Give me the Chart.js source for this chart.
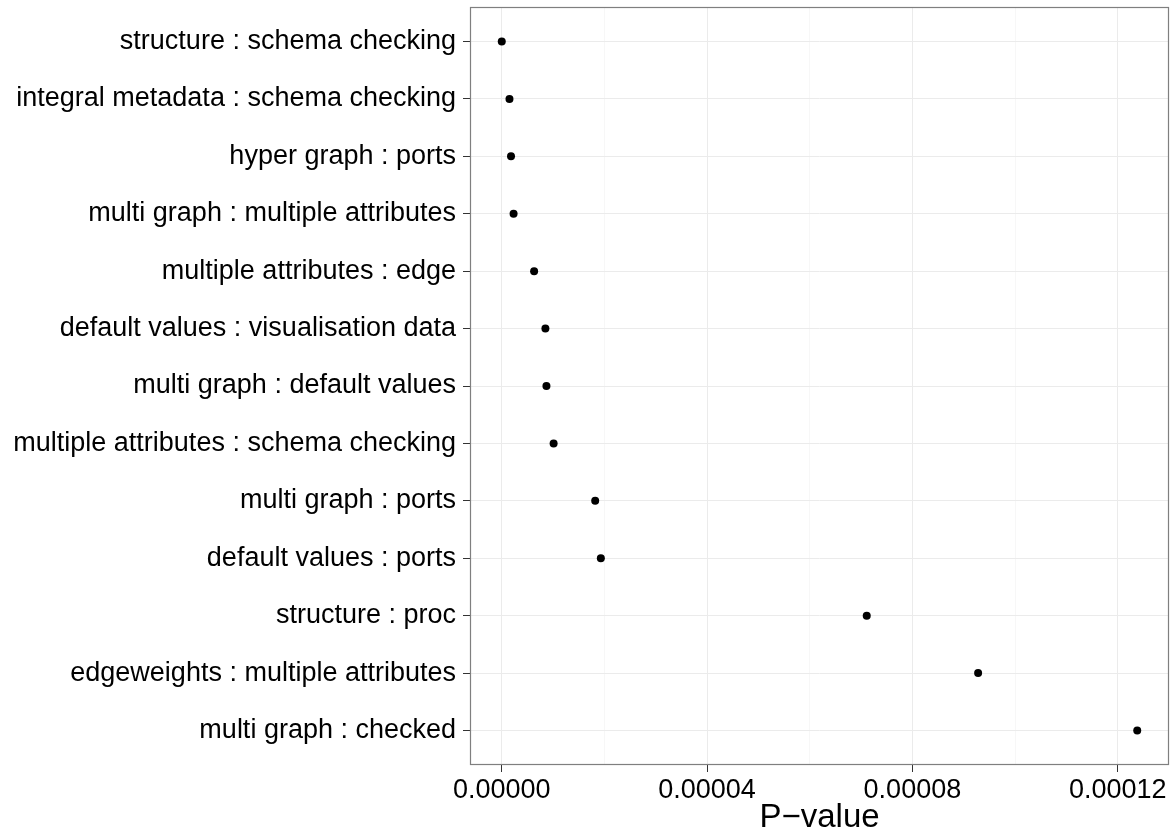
<!DOCTYPE html>
<html>
<head>
<meta charset="utf-8">
<script src="https://cdn.jsdelivr.net/npm/chart.js@4/dist/chart.umd.min.js"></script>
<style>
  html, body { margin: 0; padding: 0; background: #ffffff; }
  #wrap { width: 1174px; height: 831px; position: relative; }
</style>
</head>
<body>
<div id="wrap"><canvas id="c" width="1174" height="831"></canvas></div>
<script>
const categories = [
  "structure : schema checking",
  "integral metadata : schema checking",
  "hyper graph : ports",
  "multi graph : multiple attributes",
  "multiple attributes : edge",
  "default values : visualisation data",
  "multi graph : default values",
  "multiple attributes : schema checking",
  "multi graph : ports",
  "default values : ports",
  "structure : proc",
  "edgeweights : multiple attributes",
  "multi graph : checked"
];
const pValues = [
  0.0000000, 0.0000015, 0.0000018, 0.0000023, 0.0000063, 0.0000085, 0.0000087,
  0.0000101, 0.0000182, 0.0000193, 0.0000711, 0.0000928, 0.0001238
];
const xTicks = [0, 0.00002, 0.00004, 0.00006, 0.00008, 0.00010, 0.00012];
const xTickLabels = ["0.00000", "", "0.00004", "", "0.00008", "", "0.00012"];
const xTitle = "P\u2212value";

const points = pValues.map((v, i) => ({ x: v, y: i }));
const dataMin = Math.min(...pValues), dataMax = Math.max(...pValues);
const span = dataMax - dataMin;

const frame = {
  id: 'frame',
  afterDraw(chart) {
    const a = chart.chartArea, ctx = chart.ctx;
    ctx.save();
    ctx.strokeStyle = '#7f7f7f';
    ctx.lineWidth = 1.2;
    ctx.strokeRect(a.left + 0.5, a.top + 0.5, a.right - a.left - 1, a.bottom - a.top - 1);
    ctx.restore();
  }
};

const isMinor = (v) => xTickLabels[xTicks.indexOf(v)] === "";

new Chart(document.getElementById('c'), {
  type: 'scatter',
  data: {
    datasets: [{
      data: points,
      backgroundColor: '#000000',
      borderColor: '#000000',
      pointRadius: 4,
      pointHoverRadius: 4,
      borderWidth: 0
    }]
  },
  options: {
    responsive: false,
    animation: false,
    devicePixelRatio: 1,
    layout: { padding: { top: 7, right: 5, left: 0, bottom: 0 } },
    plugins: { legend: { display: false }, tooltip: { enabled: false } },
    scales: {
      x: {
        type: 'linear',
        min: dataMin - 0.05 * span,
        max: dataMax + 0.05 * span,
        afterBuildTicks(scale) { scale.ticks = xTicks.map(v => ({ value: v })); },
        afterFit(scale) { scale.height = 66; scale.paddingLeft = 0; scale.paddingRight = 0; },
        grid: {
          color: ctx => (ctx.tick && isMinor(ctx.tick.value)) ? '#f7f7f7' : '#ebebeb',
          lineWidth: 1,
          tickColor: ctx => (ctx.tick && isMinor(ctx.tick.value)) ? 'rgba(0,0,0,0)' : '#333333',
          tickLength: 7,
          drawTicks: true
        },
        border: { display: false },
        ticks: {
          autoSkip: false,
          maxRotation: 0,
          padding: 2,
          color: '#000000',
          font: { family: '"Liberation Sans", Arial, sans-serif', size: 27 },
          callback: (v) => { const i = xTicks.indexOf(v); return i >= 0 ? xTickLabels[i] : ''; }
        },
        title: {
          display: true,
          text: xTitle,
          color: '#000000',
          font: { family: '"Liberation Sans", Arial, sans-serif', size: 33, lineHeight: 1 },
          padding: { top: 0, bottom: -3 }
        }
      },
      y: {
        type: 'linear',
        reverse: true,
        min: -0.6,
        max: categories.length - 1 + 0.6,
        afterBuildTicks(scale) { scale.ticks = categories.map((c, i) => ({ value: i })); },
        afterFit(scale) { scale.width = 470; scale.paddingTop = 0; scale.paddingBottom = 0; },
        grid: {
          color: '#ebebeb',
          lineWidth: 1,
          tickColor: '#333333',
          tickLength: 7
        },
        border: { display: false },
        ticks: {
          autoSkip: false,
          padding: 7,
          color: '#000000',
          font: { family: '"Liberation Sans", Arial, sans-serif', size: 27 },
          callback: (v) => categories[v] !== undefined ? categories[v] : ''
        }
      }
    }
  },
  plugins: [frame]
});
</script>
</body>
</html>
